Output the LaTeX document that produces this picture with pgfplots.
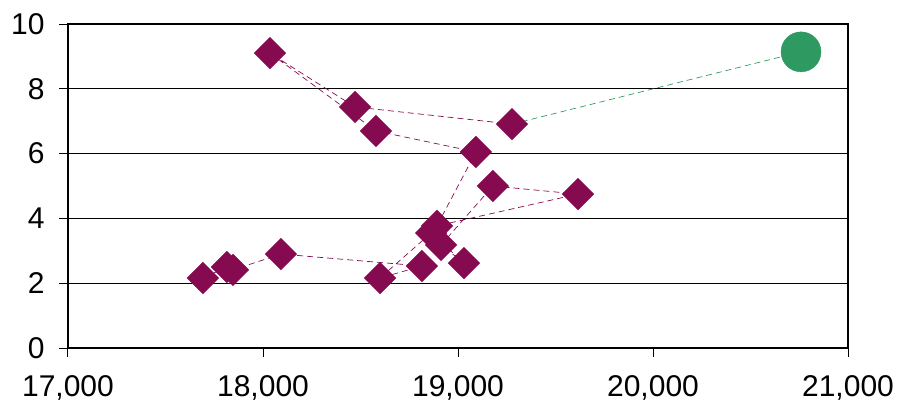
\documentclass[border=0pt]{standalone}
\usepackage{pgfplots}
\pgfplotsset{compat=1.18}
\usepackage{fontspec}
\setmainfont{Liberation Sans}
\definecolor{plum}{RGB}{134,10,80}
\definecolor{dgreen}{RGB}{46,153,96}
\begin{document}
\begin{tikzpicture}
\begin{axis}[
  scale only axis, width=780pt, height=324pt,
  xmin=17000, xmax=21000, ymin=0, ymax=10,
  xtick={17000,18000,19000,20000,21000},
  ytick={0,2,4,6,8,10},
  /pgf/number format/assume math mode=true,
  /pgf/number format/1000 sep={,},
  scaled x ticks=false,
  tick label style={font=\fontsize{30}{31}\selectfont},
  tick align=outside, major tick length=9pt,
  tick style={black, line width=1pt},
  xtick pos=bottom, ytick pos=left,
  axis line style={black, line width=2pt},
  ymajorgrids, grid style={black, line width=1.2pt},
  xticklabel style={yshift=-15pt},
  yticklabel style={xshift=-11pt},
  clip=false,
]
\addplot[plum, line width=0.7pt, dash pattern=on 6pt off 4pt,
  mark=square*, mark size=11.3pt, mark options={solid, rotate=45, fill=plum, draw=plum, line width=0.1pt}]
coordinates {
(17692,2.16) (17815,2.50) (17846,2.41) (18092,2.90) (18815,2.53) (18600,2.16)
(18862,3.55) (19031,2.62) (18913,3.18) (19179,5.00) (19615,4.75) (18892,3.77)
(19092,6.05) (18579,6.70) (18036,9.10) (18472,7.44) (19277,6.91)
};
\addplot[dgreen, line width=0.7pt, dash pattern=on 6pt off 4pt, mark=none]
coordinates {(19277,6.91) (20759,9.14)};
\addplot[only marks, mark=*, mark size=20pt, mark options={fill=dgreen, draw=dgreen}]
coordinates {(20759,9.14)};
\end{axis}
\pgfresetboundingbox
\useasboundingbox (-68pt,-60pt) rectangle (832pt,348pt);
\end{tikzpicture}
\end{document}
